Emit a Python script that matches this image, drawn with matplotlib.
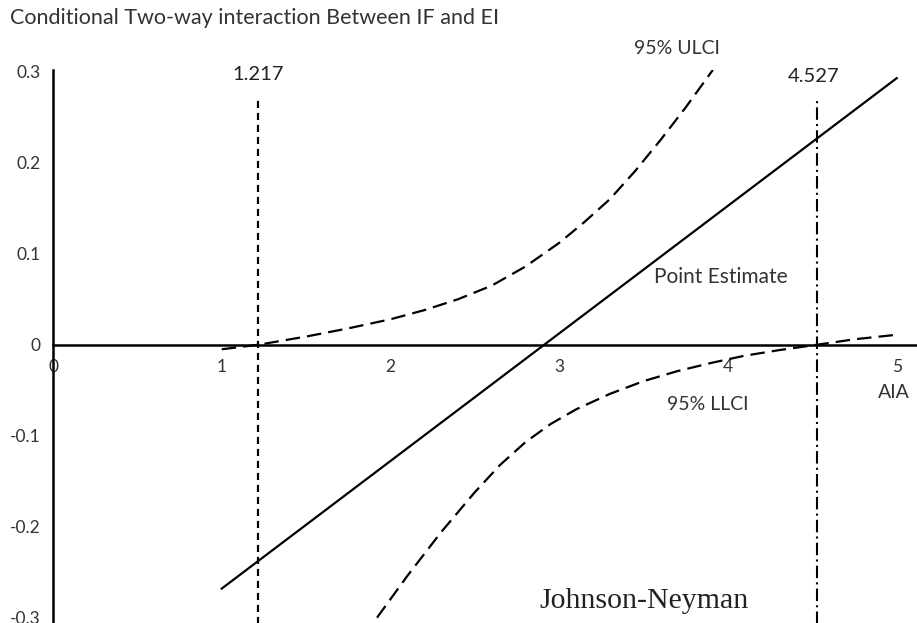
import matplotlib.pyplot as plt
import numpy as np

plt.rcParams['font.family'] = ['Lato', 'DejaVu Sans']

# point estimate (straight line)
pe_x = [1.0, 5.0]
pe_y = [-0.268, 0.293]

# 95% upper CI
ulci_x = [1.0, 1.217, 1.5, 1.75, 2.0, 2.2, 2.4, 2.6, 2.8, 3.0, 3.15, 3.3, 3.45, 3.6, 3.75, 3.91]
ulci_y = [-0.005, 0.0, 0.009, 0.018, 0.028, 0.038, 0.050, 0.065, 0.086, 0.112, 0.135, 0.160, 0.191, 0.225, 0.261, 0.302]

# 95% lower CI
llci_x = [1.92, 2.1, 2.3, 2.5, 2.65, 2.8, 2.95, 3.1, 3.3, 3.5, 3.7, 3.9, 4.1, 4.3, 4.527, 4.75, 5.0]
llci_y = [-0.300, -0.254, -0.206, -0.162, -0.132, -0.107, -0.087, -0.071, -0.054, -0.040, -0.029, -0.020, -0.012, -0.006, 0.0, 0.006, 0.011]

jn_low = 1.217
jn_high = 4.527

x_ticks = [0, 1, 2, 3, 4, 5]
y_ticks = [-0.3, -0.2, -0.1, 0, 0.1, 0.2, 0.3]
y_labels = ['-0.3', '-0.2', '-0.1', '0', '0.1', '0.2', '0.3']

fig = plt.figure(figsize=(9.17, 6.23), dpi=100)
ax = fig.add_axes([0.0578, -0.0353, 0.9422, 0.923])

ax.plot(pe_x, pe_y, color='black', lw=1.6)
ax.plot(ulci_x, ulci_y, color='black', lw=1.6, linestyle=(0, (6.5, 3.2)))
ax.plot(llci_x, llci_y, color='black', lw=1.6, linestyle=(0, (6.5, 3.2)))

ax.plot([jn_low, jn_low], [-0.4, 0.272], color='black', lw=1.6,
        linestyle=(0, (3.2, 2.2)))
ax.plot([jn_high, jn_high], [-0.4, 0.270], color='black', lw=1.5,
        linestyle=(0, (6, 2, 1, 2)))

ax.set_xlim(0, 5.12)
ax.set_ylim(-0.33, 0.302)

ax.spines['top'].set_visible(False)
ax.spines['right'].set_visible(False)
ax.spines['bottom'].set_position(('data', 0))
ax.spines['left'].set_linewidth(1.8)
ax.spines['bottom'].set_linewidth(1.8)

ax.set_xticks(x_ticks)
ax.set_yticks(y_ticks)
ax.set_yticklabels(y_labels)
ax.tick_params(axis='both', length=0, labelsize=12.5, labelcolor='#333333')
ax.tick_params(axis='x', pad=10)
ax.tick_params(axis='y', pad=9)

ax.text(jn_low, 0.297, '1.217', ha='center', va='center', fontsize=14.5, color='#222222')
ax.text(4.51, 0.295, '4.527', ha='center', va='center', fontsize=14.5, color='#222222')
ax.text(3.70, 0.326, '95% ULCI', ha='center', va='center', fontsize=14,
        color='#333333', clip_on=False)
ax.text(3.96, 0.075, 'Point Estimate', ha='center', va='center', fontsize=15, color='#333333')
ax.text(3.88, -0.066, '95% LLCI', ha='center', va='center', fontsize=14, color='#333333')
ax.text(4.98, -0.053, 'AIA', ha='center', va='center', fontsize=14, color='#333333')
ax.text(3.50, -0.282, 'Johnson-Neyman', ha='center', va='center', fontsize=21.5,
        family='Liberation Serif', color='#222222')

fig.text(0.011, 0.971, 'Conditional Two-way interaction Between IF and EI',
         ha='left', va='center', fontsize=15.5, color='#333333')

fig.savefig('out.png', dpi=100)
